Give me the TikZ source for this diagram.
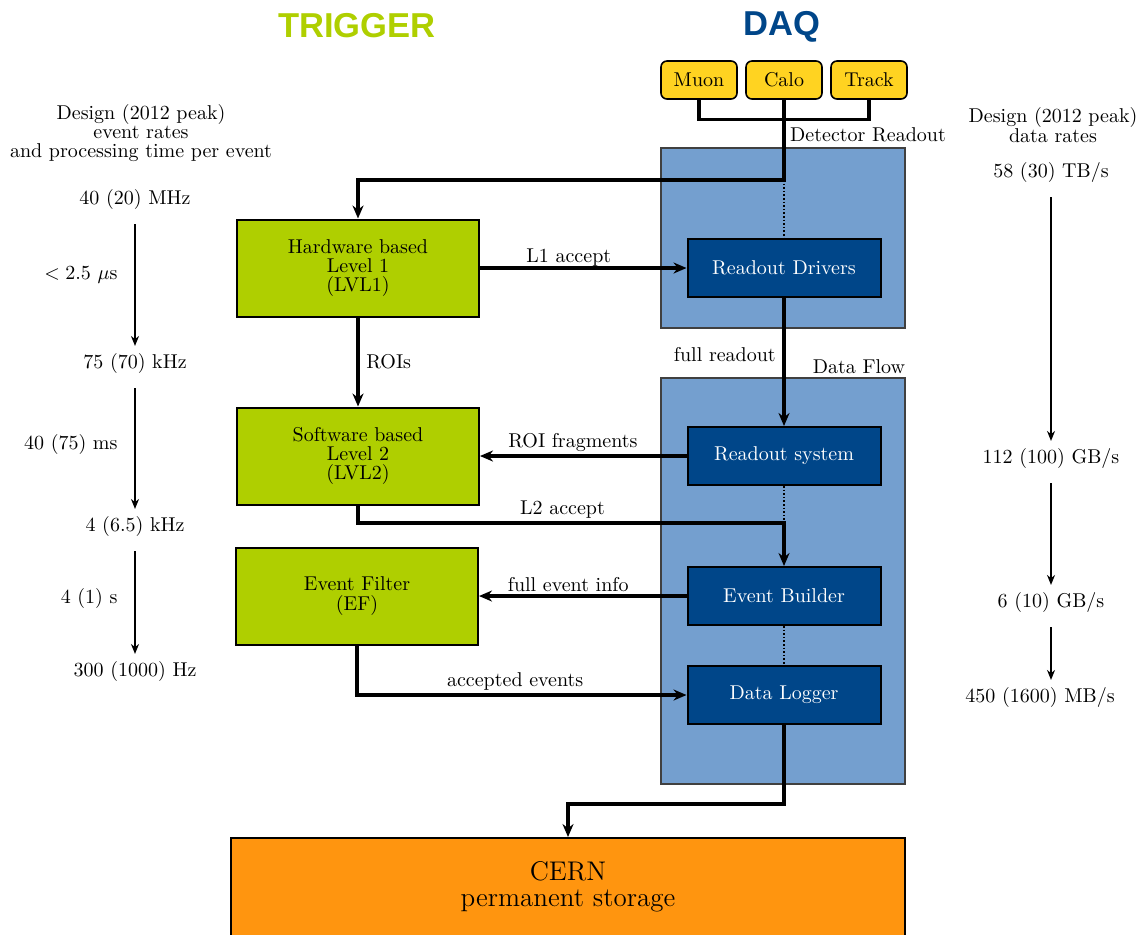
\documentclass[tikz,border=0pt]{standalone}
\usepackage{fontspec}
\newfontfamily\titlefont{Liberation Sans}
\usetikzlibrary{arrows.meta}
\definecolor{trigreen}{RGB}{175,207,0}
\definecolor{daqblue}{RGB}{0,70,137}
\definecolor{daqlight}{RGB}{116,159,207}
\definecolor{detyellow}{RGB}{255,211,33}
\definecolor{cernorange}{RGB}{255,149,15}
\tikzset{
	trig/.style={draw, line width=1pt, fill=trigreen, minimum width=121pt, minimum height=48.5pt, align=center, font=\linespread{0.8}\selectfont},
	daq/.style={draw, line width=1pt, fill=daqblue, text=white, minimum width=96.5pt, minimum height=29pt},
	det/.style={draw, line width=0.8pt, fill=detyellow, rounded corners=3pt, minimum width=38pt, minimum height=19pt},
	area/.style={draw=black!75, fill=daqlight, line width=0.6pt},
	flow/.style={line width=1.6pt, >={Stealth[length=6.5pt,width=5.5pt]}},
	tag/.style={above, inner sep=1.5pt},
	link/.style={densely dotted, line width=0.8pt},
	rate/.style={align=center, font=\linespread{0.8}\selectfont},
	ratearrow/.style={->, line width=0.8pt, shorten <=4pt, >={Stealth[length=5pt,width=4pt]}},
	headline/.style={font=\titlefont\bfseries\LARGE, anchor=base}
}
\begin{document}
\begin{tikzpicture}[x=0.5pt, y=-0.5pt]
	\useasboundingbox (0,0) rectangle (1144,934);
	\node[headline, text=trigreen] (trigtitle) at (357,37) {TRIGGER};
	\node[headline, text=daqblue] (daqtitle) at (782,35) {DAQ};

	\draw[area] (661,148) rectangle (905,328);
	\draw[area] (661,378) rectangle (905,784);
	\node (detlabel) at (868,135) {Detector Readout};
	\node (flowlabel) at (859,367) {Data Flow};

	\node[det] (muon) at (699,80) {Muon};
	\node[det] (calo) at (784,80) {Calo};
	\node[det] (track) at (869,80) {Track};

	\node[daq] (rod) at (784,268) {Readout Drivers};
	\node[daq] (ros) at (784,456) {Readout system};
	\node[daq] (eb) at (784,596) {Event Builder};
	\node[daq] (dl) at (784,695) {Data Logger};

	\node[trig] (lvl1) at (358,268) {Hardware based\\Level 1\\(LVL1)};
	\node[trig] (lvl2) at (358,456) {Software based\\Level 2\\(LVL2)};
	\node[trig] (ef) at (357,596) {Event Filter\\(EF)};
	\node[draw, line width=1pt, fill=cernorange, minimum width=337pt, minimum height=49pt, align=center, font=\fontsize{13.5}{13}\selectfont] (cern) at (568,887) {CERN\\permanent storage};

	\coordinate (split) at (784,180);
	\coordinate (l2turn) at (784,523);
	\draw[flow] (muon.south) -- ++(0,20) -| (track.south);
	\draw[flow,->] (calo.south) -- (split) -| (lvl1.north);
	\draw[link] (split) -- (rod.north);
	\draw[flow,->] (lvl1) -- node[tag, pos=0.43, inner sep=0pt] {L1 accept} (rod);
	\draw[flow,->] (lvl1) -- node[right] {ROIs} (lvl2);
	\draw[flow,->] (rod) -- node[left, pos=0.44] {full readout} (ros);
	\draw[flow,->] (ros) -- node[tag, pos=0.55] {ROI fragments} (lvl2);
	\draw[flow,->] (lvl2.south) |- node[tag, pos=0.74] {L2 accept} (l2turn) -- (eb.north);
	\draw[link] (ros) -- (l2turn);
	\draw[flow,->] (eb) -- node[tag, pos=0.57] {full event info} (ef);
	\draw[link] (eb) -- (dl);
	\draw[flow,->] (ef.south) |- node[tag, pos=0.74] {accepted events} (dl.west);
	\draw[flow,->] (dl.south) -- ++(0,79) -| (cern.north);

	\node[rate] (evhead) at (141,133) {Design (2012 peak)\\event rates\\and processing time per event};
	\node (r1) at (135,199) {40 (20) MHz};
	\node (r2) at (135,363) {75 (70) kHz};
	\node (r3) at (135,526) {4 (6.5) kHz};
	\node (r4) at (135,671) {300 (1000) Hz};
	\draw[ratearrow] (r1) -- node[left=5pt, pos=0.45] {$<2.5$ $\mu$s} (r2);
	\draw[ratearrow] (r2) -- node[left=5pt] {40 (75) ms} (r3);
	\draw[ratearrow] (r3) -- node[left=5pt] {4 (1) s} (r4);

	\node[rate] (datahead) at (1053,125) {Design (2012 peak)\\data rates};
	\node (d1) at (1051,172) {58 (30) TB/s};
	\node (d2) at (1051,458) {112 (100) GB/s};
	\node (d3) at (1051,602) {6 (10) GB/s};
	\node (d4) at (1040,697) {450 (1600) MB/s};
	\draw[ratearrow] (d1) -- (d2);
	\draw[ratearrow] (d2) -- (d3);
	\draw[ratearrow] (d3.south) -- (d3.south |- d4.north);
\end{tikzpicture}
\end{document}
